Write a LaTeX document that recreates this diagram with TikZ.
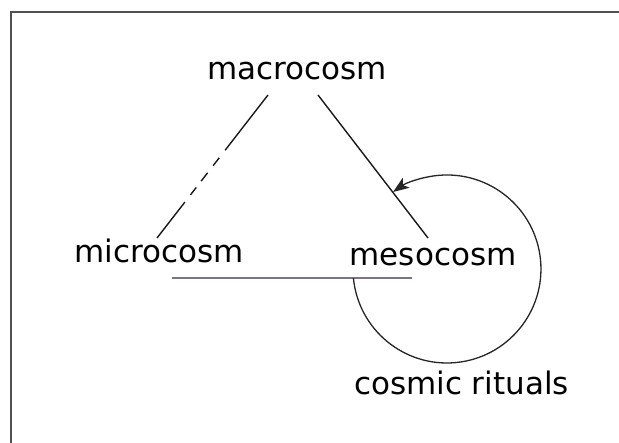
\documentclass[tikz,border=0pt]{standalone}
\usepackage{fontspec}
\setmainfont{DejaVu Sans}
\usetikzlibrary{arrows.meta}
\definecolor{framegray}{RGB}{80,80,80}
\definecolor{basegray}{RGB}{125,115,130}
\tikzset{
  lbl/.style={inner sep=0pt, anchor=base, font=\fontsize{31}{37}\selectfont},
  edge/.style={line width=1.4pt, black!90},
  framestyle/.style={line width=1.8pt, framegray},
}
\begin{document}
\begin{tikzpicture}[x=1pt,y=-1pt]
\useasboundingbox (0,0) rectangle (619,443);
\fill[white] (0,0) rectangle (619,443);
% frame
\draw[framestyle] (11,443) -- (11,12) -- (619,12);
% labels
\node[lbl] (macro) at (297,80) {macrocosm};
\node[lbl] (micro) at (159,263) {microcosm};
\node[lbl] (meso) at (433,266) {mesocosm};
\node[lbl] (rituals) at (461.5,395) {cosmic rituals};
% connector end points
\coordinate (macL) at (268,95);
\coordinate (micT) at (157,238);
\coordinate (macR) at (318,95);
\coordinate (mesT) at (428,238);
\coordinate (baseL) at (172,278);
\coordinate (baseR) at (412,278);
\coordinate (loopS) at (353.4,278);
% edges
\draw[edge, dash pattern=on 70pt off 9.5pt on 10pt off 9pt on 10.5pt off 8pt on 9.5pt off 9pt on 60pt] (macL) -- (micT);
\draw[edge] (macR) -- (mesT);
\draw[line width=1.5pt, basegray] (baseL) -- (baseR);
% loop
\draw[line width=1.3pt, black!85, -{Stealth[length=16pt,width=12pt,inset=4pt]}]
  (loopS) arc[start angle=174.5, end angle=-125, radius=94];
\end{tikzpicture}
\end{document}
